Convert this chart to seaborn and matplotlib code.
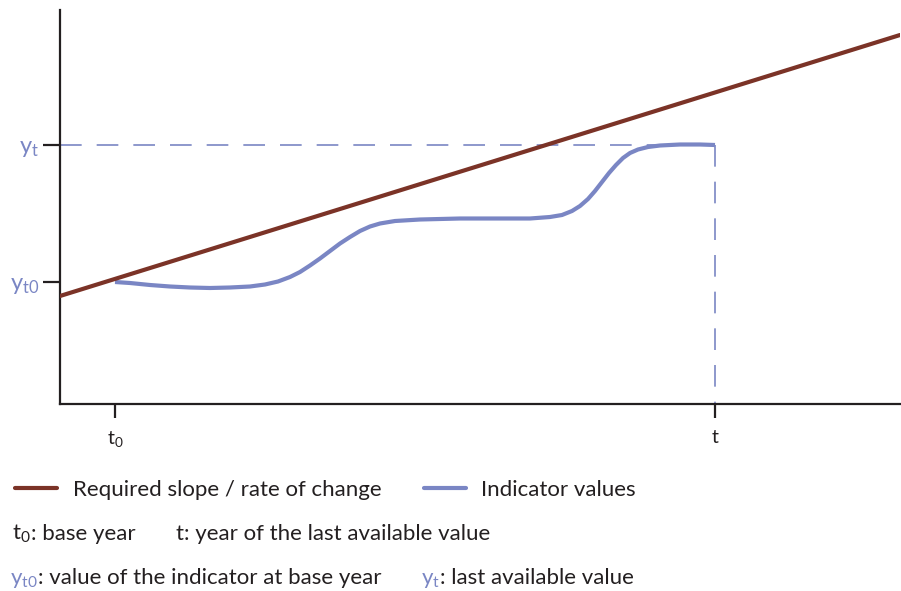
import numpy as np
import pandas as pd
import matplotlib
matplotlib.use("Agg")
import matplotlib.pyplot as plt
from matplotlib.lines import Line2D
import seaborn as sns

# data (arbitrary units)
slope_x = [0, 840]
slope_y = [108, 369]

ind_x = [55, 70, 90, 110, 130, 150, 170, 190, 205, 218, 230, 240, 250, 260, 270, 280,
         290, 300, 310, 320, 335, 360, 400, 440, 470, 490, 502, 512, 520, 528, 535, 542,
         549, 556, 563, 570, 578, 588, 600, 620, 640, 655]
ind_y = [122, 121, 119, 117.5, 116.5, 116, 116.5, 117.5, 119.5, 122.5, 127, 132, 138.5,
         145.5, 153, 160.5, 167, 173, 177.5, 180.5, 183, 184.5, 185.5, 185.5, 185.5, 187,
         189, 193, 198, 205, 213, 222, 231, 239, 246, 251, 254.5, 257, 258.5, 259.5,
         259.5, 259]

t0_pos, t_pos = 55, 655
yt0_val, yt_val = 122, 259
x_tick_labels = [r"$\mathregular{t_{0}}$", r"$\mathregular{t}$"]
y_tick_labels = [r"$\mathregular{y_{t0}}$", r"$\mathregular{y_{t}}$"]

brown = "#7b3327"
blue = "#7a86c4"
dark = "#231f20"

sns.set_style("white")
plt.rcParams["font.family"] = ["Lato", "DejaVu Sans"]
plt.rcParams["mathtext.fontset"] = "custom"
plt.rcParams["mathtext.rm"] = "Lato"
plt.rcParams["mathtext.it"] = "Lato"

fig = plt.figure(figsize=(9.01, 5.91), dpi=100)
ax = fig.add_axes([60 / 901, 187 / 591, 840 / 901, 394 / 591])

df_slope = pd.DataFrame({"x": slope_x, "y": slope_y})
df_ind = pd.DataFrame({"x": ind_x, "y": ind_y})

# dashed guides
ax.plot([0, t_pos], [yt_val, yt_val], color=blue, lw=1.2, dashes=(13, 9), zorder=1)
ax.plot([t_pos, t_pos], [yt_val, 0], color=blue, lw=1.2, dashes=(13, 9), zorder=1)

sns.lineplot(data=df_slope, x="x", y="y", ax=ax, color=brown, lw=3, zorder=3)
sns.lineplot(data=df_ind, x="x", y="y", ax=ax, color=blue, lw=3, sort=False, zorder=2,
             solid_capstyle="butt", solid_joinstyle="round")

ax.set_xlim(0, 840)
ax.set_ylim(0, 394)
ax.set_xlabel("")
ax.set_ylabel("")
sns.despine(ax=ax)
for s in ["left", "bottom"]:
    ax.spines[s].set_linewidth(1.6)
    ax.spines[s].set_color(dark)

ax.set_xticks([t0_pos, t_pos])
ax.set_xticklabels(x_tick_labels, fontsize=14, color=dark)
ax.set_yticks([yt0_val, yt_val])
ax.set_yticklabels(y_tick_labels, fontsize=17, color=blue)
ax.tick_params(axis="x", length=10, width=1.6, color=dark, pad=8, bottom=True)
ax.tick_params(axis="y", length=12, width=1.6, color=dark, pad=3, left=True)

# legend
handles = [Line2D([], [], color=brown, lw=3), Line2D([], [], color=blue, lw=3)]
fig.legend(handles, ["Required slope / rate of change", "Indicator values"],
           loc="center left", bbox_to_anchor=(15 / 901, 1 - 490 / 591), ncol=2,
           frameon=False, fontsize=16, handlelength=1.9, handletextpad=0.7,
           columnspacing=1.9, labelcolor=dark, borderpad=0.0, borderaxespad=0.0)

# footnotes: coloured symbol followed by plain text on the same baseline
fs = 16
fig.canvas.draw()
renderer = fig.canvas.get_renderer()


def footnote(x_px, base_px, sym, sym_color, rest):
    t1 = fig.text(x_px / 901, 1 - base_px / 591, sym, fontsize=fs, color=sym_color,
                  va="baseline")
    x1 = t1.get_window_extent(renderer).x1
    fig.text(x1 / 901, 1 - base_px / 591, rest, fontsize=fs, color=dark, va="baseline")


footnote(12, 540, r"$\mathregular{t_{0}}$", dark, ": base year")
fig.text(176 / 901, 1 - 540 / 591, "t: year of the last available value", fontsize=fs,
         color=dark, va="baseline")
footnote(10, 584, r"$\mathregular{y_{t0}}$", blue, ": value of the indicator at base year")
footnote(421, 584, r"$\mathregular{y_{t}}$", blue, ": last available value")

fig.savefig("out.png", dpi=100)
